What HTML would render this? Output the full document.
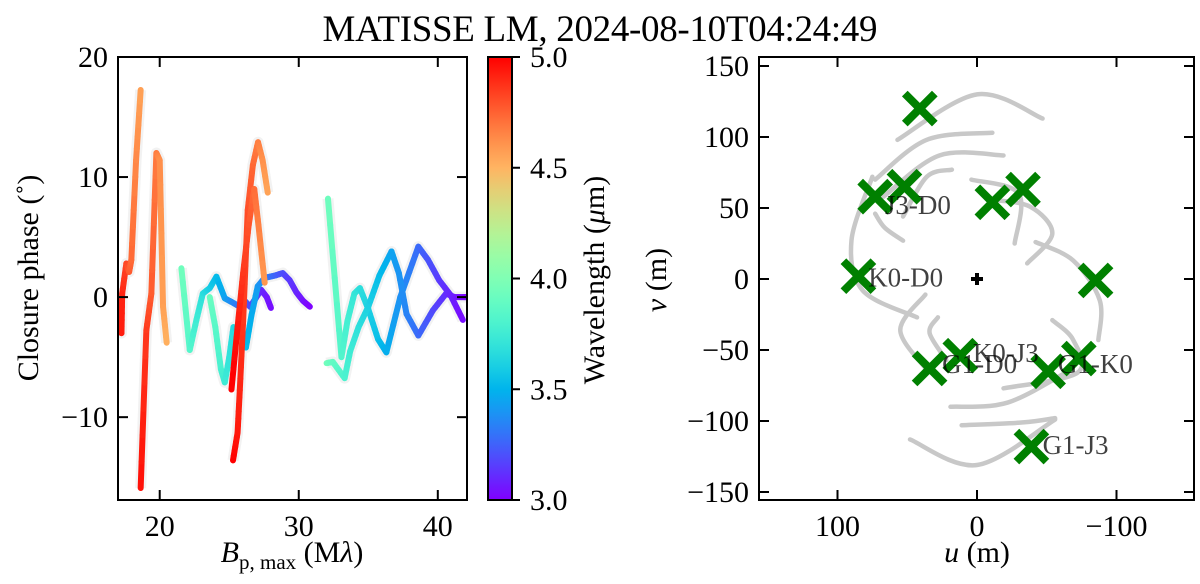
<!DOCTYPE html>
<html><head><meta charset="utf-8"><style>
html,body{margin:0;padding:0;background:#fff;}
svg{display:block;font-family:"Liberation Serif",serif;}
</style></head><body>
<svg id="fig" width="1200" height="584" viewBox="0 0 1200 584" xmlns="http://www.w3.org/2000/svg">
<text x="600" y="41" font-size="37" text-anchor="middle" textLength="555">MATISSE LM, 2024-08-10T04:24:49</text>
<g id="left"></g>
<g id="cbar"></g>
<g id="right"></g>
</svg>
<script>
// ---- closure phase data: Bp,max (Mλ), closure phase (deg), max baseline B (m) ----
const triBaseline = [85, 92.5, 85, 92.5, 126.5, 126.5, 126.5, 126.5];
const seriesX = [
 [17.0,17.25,17.3,17.6,17.8,17.96,18.3,18.63],
 [18.63,19.04,19.4,19.76,20.0,20.24,20.5],
 [21.56,22.16,22.64,23.1,23.6,24.08,24.68,25.16,25.76,26.1,26.5,27.3,27.7,28.0],
 [23.6,24.0,24.4,24.68,25.0,25.3,25.7,26.2,26.6,27.05,27.55,28.3,28.85,29.35,29.83,30.3,30.8],
 [25.27,25.6,25.76,26.0,26.33,26.7,27.07,27.4,27.77],
 [25.16,25.6,26.0,26.4,26.8,27.1,27.55],
 [32.1,33.07,33.5,34.0,34.4,35.0,35.7,36.3,37.3,38.6,39.3,40.1,40.9,41.8],
 [32.0,32.45,33.3,33.7,34.3,35.0,35.8,36.67,37.2,37.75,38.6,39.65,40.6,41.2,41.8,42.1]
];
const seriesY = [
 [-1.5,-3,0.3,2.8,2.1,3.1,11.4,17.25],
 [-15.9,-2.75,0.3,12,11.4,-0.8,-3.8],
 [2.4,-4.4,-1.9,0.3,0.75,1.7,-0.1,-0.4,-0.8,-0.3,-0.8,0.6,0,-0.9],
 [0,-2.5,-6,-7.1,-5,-2.5,-2.8,-4.2,-1.5,0.9,1.6,1.8,2,1.4,0.4,-0.3,-0.8],
 [-13.6,-11.3,-7.75,-2,7.25,11,12.9,11.4,8.7],
 [-7.7,-2.5,2,6,9,6,1.2],
 [8.2,-5,-2,0.3,0.75,-1,-3.5,-4.6,0,4.2,3.1,1.4,0.2,-1.9],
 [-5.5,-5.4,-6.75,-4.5,-2.5,-0.8,1.8,3.8,2,-1.4,-3.2,-1.1,0.3,0,0,0]
];
const xTicks = [20,30,40];
const yTicks = [-10,0,10,20];
const cbTicks = ["3.0","3.5","4.0","4.5","5.0"];
// ---- uv data ----
const uvU = [41,73,52,-11,-33,85,-85,34,12,-51,-73,-39];
const uvV = [120,58,65,54,63,2,-1,-63,-54,-65,-56,-118];
const uvLabels = ["J3-D0","K0-D0","K0-J3","G1-D0","G1-K0","G1-J3"];
const uvLabelU = [66,78,3,25,-58,-47];
const uvLabelV = [52,1,-52,-60,-60,-117];
const trackU = [[57,0,-47],[73,36,-11],[67,27,-19],[53,36,18],[4,-30,-27],[-8,-38,-54,-36],[75,90,82,43],[73,66,53],[-42,-69,-88,-87],[37,55,36],[28,34,22],[-54,-69,-72,-19],[19,-22,-67],[11,-33,-56],[48,0,-56]];
const trackV = [[98,130,113],[70,98,103],[58,87,87],[44,72,77],[70,60,25],[56,51,32,11],[72,27,-8,-27],[46,36,27],[26,13,-15,-43],[-11,-36,-64],[-27,-38,-57],[-29,-43,-66,-77],[-90,-87,-64],[-103,-101,-98],[-113,-131,-99]];
const uvTicks = [-150,-100,-50,0,50,100,150];
const uTicks = [100,0,-100];

const NS = "http://www.w3.org/2000/svg";
function el(parent, tag, attrs, text){
  const e = document.createElementNS(NS, tag);
  for (const k in attrs) e.setAttribute(k, attrs[k]);
  if (text !== undefined) e.textContent = text;
  parent.appendChild(e); return e;
}
function rainbow(t){
  t = Math.max(0, Math.min(1, t));
  const r = Math.min(1, Math.abs(2*t-0.5)), g = Math.sin(Math.PI*t), b = Math.cos(Math.PI*t/2);
  return `rgb(${Math.round(r*255)},${Math.round(g*255)},${Math.round(Math.max(0,b)*255)})`;
}
function fmt(v){ return v < 0 ? "\u2212" + Math.abs(v) : String(v); }

// ---- Left panel ----
const L = document.getElementById('left');
const LX0=118, LX1=467, LY0=57, LY1=500;
const xmin=17.0, xmax=42.1, ymin=-16.9, ymax=20;
const sx = v => LX0 + (v - xmin)/(xmax - xmin)*(LX1 - LX0);
const sy = v => LY1 - (v - ymin)/(ymax - ymin)*(LY1 - LY0);
el(L,'clipPath',{id:'lclip'});
el(document.getElementById('lclip'),'rect',{x:LX0,y:LY0,width:LX1-LX0,height:LY1-LY0});
const plot = el(L,'g',{'clip-path':'url(#lclip)'});


for (let s=0; s<seriesX.length; s++){
  const pts = seriesX[s].map((x,i)=>sx(x)+','+sy(seriesY[s][i])).join(' ');
  const band = el(plot,'polyline',{points:pts,fill:'none',stroke:'#f2f2f2','stroke-width':11,'stroke-linejoin':'round'});
  
  
}
for (let s=0; s<seriesX.length; s++){
  const g = el(plot,'g',{});
  
  
  const X = seriesX[s], Y = seriesY[s], B = triBaseline[s];
  for (let i=0; i<X.length-1; i++){
    const n = 6;
    for (let k=0; k<n; k++){
      const xa = X[i]+(X[i+1]-X[i])*k/n, xb = X[i]+(X[i+1]-X[i])*(k+1)/n;
      const ya = Y[i]+(Y[i+1]-Y[i])*k/n, yb = Y[i]+(Y[i+1]-Y[i])*(k+1)/n;
      const lam = B/((xa+xb)/2);
      el(g,'line',{x1:sx(xa),y1:sy(ya),x2:sx(xb),y2:sy(yb),stroke:rainbow((lam-3)/2),'stroke-width':6,'stroke-linecap':'round'});
    }
  }
}
el(L,'rect',{x:LX0,y:LY0,width:LX1-LX0,height:LY1-LY0,fill:'none',stroke:'#000','stroke-width':2});
xTicks.forEach(t=>{
  const x=sx(t);
  el(L,'line',{x1:x,y1:LY1,x2:x,y2:LY1-10,stroke:'#000','stroke-width':2});
  el(L,'line',{x1:x,y1:LY0,x2:x,y2:LY0+10,stroke:'#000','stroke-width':2});
  const tl = el(L,'text',{x:x,y:536,'font-size':30,'text-anchor':'middle'},fmt(t));
  
  
});
yTicks.forEach(t=>{
  const y=sy(t);
  el(L,'line',{x1:LX0,y1:y,x2:LX0+10,y2:y,stroke:'#000','stroke-width':2});
  el(L,'line',{x1:LX1,y1:y,x2:LX1-10,y2:y,stroke:'#000','stroke-width':2});
  const tl = el(L,'text',{x:108,y:y+10,'font-size':30,'text-anchor':'end'},fmt(t));
  
  
});
const xl = el(L,'text',{x:292,y:562,'font-size':30,'text-anchor':'middle'});
xl.innerHTML='<tspan font-style="italic">B</tspan><tspan font-size="21" dy="7">p, max</tspan><tspan dy="-7"> (M</tspan><tspan font-style="italic">λ</tspan>)';


const yl = el(L,'text',{x:0,y:0,'font-size':30,'text-anchor':'middle',transform:'translate(38,278) rotate(-90)'},'Closure phase (˚)');



// ---- Colorbar ----
const C = document.getElementById('cbar');
const defs = el(C,'defs',{});
const grad = el(defs,'linearGradient',{id:'rb',x1:0,y1:1,x2:0,y2:0});
for (let i=0;i<=20;i++) el(grad,'stop',{offset:(i/20),'stop-color':rainbow(i/20)});
el(C,'rect',{x:488,y:57,width:24,height:443,fill:'url(#rb)',stroke:'#000','stroke-width':2});
cbTicks.forEach(t=>{
  const y = 500 - (parseFloat(t)-3)/2*443;
  el(C,'line',{x1:512,y1:y,x2:520,y2:y,stroke:'#000','stroke-width':2});
  const tl = el(C,'text',{x:530,y:y+10,'font-size':30},t);
  
  
});
const cl = el(C,'text',{x:0,y:0,'font-size':30,'text-anchor':'middle',transform:'translate(604,280) rotate(-90)'});
cl.innerHTML='Wavelength (<tspan font-style="italic">μ</tspan>m)';



// ---- Right panel ----
const R = document.getElementById('right');
const RX0=759, RX1=1194, RY0=57, RY1=500;
const su = u => 977 - u*1.395;
const sv = v => 279 - v*1.42;
function smoothPath(P){
  let d = 'M'+P[0][0]+','+P[0][1];
  for (let i=0;i<P.length-1;i++){
    const p0=P[Math.max(0,i-1)], p1=P[i], p2=P[i+1], p3=P[Math.min(P.length-1,i+2)];
    const c1=[p1[0]+(p2[0]-p0[0])/6, p1[1]+(p2[1]-p0[1])/6];
    const c2=[p2[0]-(p3[0]-p1[0])/6, p2[1]-(p3[1]-p1[1])/6];
    d += ` C${c1[0]},${c1[1]} ${c2[0]},${c2[1]} ${p2[0]},${p2[1]}`;
  }
  return d;
}
for (let t=0;t<trackU.length;t++){
  const P = trackU[t].map((u,i)=>[su(u), sv(trackV[t][i])]);
  const p = el(R,'path',{d:smoothPath(P),fill:'none',stroke:'#c8c8c8','stroke-width':4.5,'stroke-linecap':'round'});
  
  
}
for (let i=0;i<uvU.length;i++){
  const x=su(uvU[i]), y=sv(uvV[i]), h=15;
  const g = el(R,'g',{stroke:'#008000','stroke-width':8,'stroke-linecap':'butt'});
  
  
  el(g,'line',{x1:x-h,y1:y-h,x2:x+h,y2:y+h});
  el(g,'line',{x1:x-h,y1:y+h,x2:x+h,y2:y-h});
}
for (let i=0;i<uvLabels.length;i++){
  const tl = el(R,'text',{x:su(uvLabelU[i]),y:sv(uvLabelV[i])+9,'font-size':27,fill:'#000','fill-opacity':0.75},uvLabels[i]);
  
  
}
const cen = el(R,'g',{stroke:'#000','stroke-width':4});


el(cen,'line',{x1:su(0)-6,y1:sv(0),x2:su(0)+6,y2:sv(0)});
el(cen,'line',{x1:su(0),y1:sv(0)-6,x2:su(0),y2:sv(0)+6});
el(R,'rect',{x:RX0,y:RY0,width:RX1-RX0,height:RY1-RY0,fill:'none',stroke:'#000','stroke-width':2});
uTicks.forEach(t=>{
  const x=su(t);
  el(R,'line',{x1:x,y1:RY1,x2:x,y2:RY1-10,stroke:'#000','stroke-width':2});
  el(R,'line',{x1:x,y1:RY0,x2:x,y2:RY0+10,stroke:'#000','stroke-width':2});
  const tl = el(R,'text',{x:x,y:536,'font-size':30,'text-anchor':'middle'},fmt(t));
  
  
});
uvTicks.forEach(t=>{
  const y=sv(t);
  el(R,'line',{x1:RX0,y1:y,x2:RX0+10,y2:y,stroke:'#000','stroke-width':2});
  el(R,'line',{x1:RX1,y1:y,x2:RX1-10,y2:y,stroke:'#000','stroke-width':2});
  const tl = el(R,'text',{x:749,y:y+10,'font-size':30,'text-anchor':'end'},fmt(t));
  
  
});
const ul = el(R,'text',{x:977,y:562,'font-size':30,'text-anchor':'middle'});
ul.innerHTML='<tspan font-style="italic">u</tspan> (m)';


const vl = el(R,'text',{x:0,y:0,'font-size':30,'text-anchor':'middle',transform:'translate(666,280) rotate(-90)'});
vl.innerHTML='<tspan font-style="italic">v</tspan> (m)';


</script>
</body></html>
